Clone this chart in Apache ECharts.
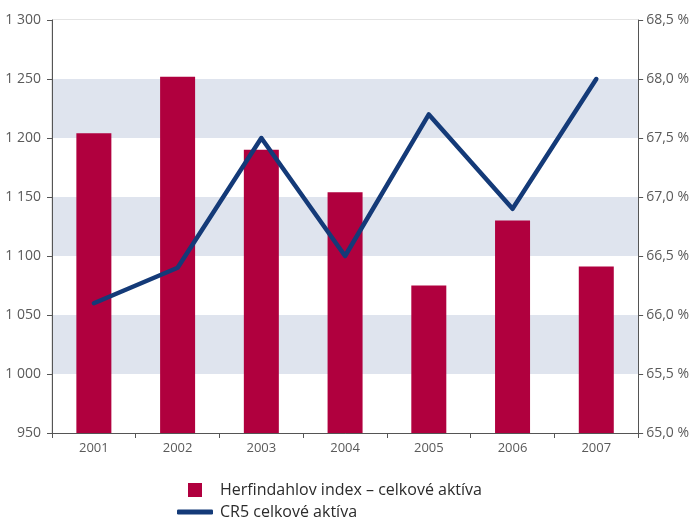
<!DOCTYPE html>
<html>
<head>
<meta charset="utf-8">
<script src="https://cdn.jsdelivr.net/npm/echarts@6/dist/echarts.min.js"></script>
<style>
  html, body { margin: 0; padding: 0; background: #fff; }
  #chart { width: 692px; height: 520px; }
</style>
</head>
<body>
<div id="chart"></div>
<script>
// Years on the category axis
const years = ['2001', '2002', '2003', '2004', '2005', '2006', '2007'];
// Herfindahl index of total assets (left axis)
const herfindahl = [1204, 1252, 1190, 1154, 1075, 1130, 1091];
// CR5 share of total assets, in % (right axis)
const cr5 = [66.1, 66.4, 67.5, 66.5, 67.7, 66.9, 68.0];

const seriesNames = ['Herfindahlov index – celkové aktíva', 'CR5 celkové aktíva'];

const FONT = '"Open Sans", "Noto Sans", sans-serif';
const AXIS_GREY = '#555555';
const LABEL_GREY = '#5a5a5a';

const fmtThousands = v => {
  const s = String(Math.round(v));
  return s.length > 3 ? s.slice(0, s.length - 3) + ' ' + s.slice(-3) : s;
};
const fmtPercent = v => v.toFixed(1).replace('.', ',') + ' %';

const chart = echarts.init(document.getElementById('chart'), null, { renderer: 'canvas' });

chart.setOption({
  animation: false,
  backgroundColor: '#ffffff',
  textStyle: { fontFamily: FONT },
  grid: {
    left: 52, right: 53, top: 20, bottom: 87,
    show: true, borderColor: '#c8c8c8', borderWidth: 1, backgroundColor: 'transparent'
  },
  legend: [
    {
      data: [{ name: seriesNames[0], icon: 'rect' }],
      left: 183, top: 477, orient: 'vertical',
      itemWidth: 14, itemHeight: 14,
      textStyle: { fontFamily: FONT, fontSize: 16, color: '#2b2b2b', padding: [0, 0, 0, 13] }
    },
    {
      data: [{ name: seriesNames[1], icon: 'roundRect' }],
      left: 172, top: 499, orient: 'vertical',
      itemWidth: 36, itemHeight: 5,
      itemStyle: { borderWidth: 0 },
      textStyle: { fontFamily: FONT, fontSize: 16, color: '#2b2b2b', padding: [0, 0, 0, 2] }
    }
  ],
  xAxis: {
    type: 'category',
    data: years,
    axisLine: { lineStyle: { color: AXIS_GREY, width: 1 } },
    axisTick: { show: true, length: 5, lineStyle: { color: AXIS_GREY } },
    axisLabel: { color: LABEL_GREY, fontSize: 13, margin: 9, fontFamily: FONT },
    splitLine: { show: false }
  },
  yAxis: [
    {
      type: 'value',
      min: 950, max: 1300, interval: 50,
      position: 'left',
      axisLine: { show: true, lineStyle: { color: AXIS_GREY, width: 1 } },
      axisTick: { show: true, length: 5, lineStyle: { color: AXIS_GREY } },
      axisLabel: { color: LABEL_GREY, fontSize: 14, margin: 11, fontFamily: FONT, formatter: fmtThousands },
      splitLine: { show: false },
      splitArea: { show: true, areaStyle: { color: ['#ffffff', '#dfe4ee'] } }
    },
    {
      type: 'value',
      min: 65.0, max: 68.5, interval: 0.5,
      position: 'right',
      axisLine: { show: true, lineStyle: { color: AXIS_GREY, width: 1 } },
      axisTick: { show: true, length: 5, lineStyle: { color: AXIS_GREY } },
      axisLabel: { color: LABEL_GREY, fontSize: 14, margin: 8, fontFamily: FONT, formatter: fmtPercent },
      splitLine: { show: false }
    }
  ],
  series: [
    {
      name: seriesNames[0],
      type: 'bar',
      yAxisIndex: 0,
      data: herfindahl,
      barWidth: 35,
      itemStyle: { color: '#b0003e' }
    },
    {
      name: seriesNames[1],
      type: 'line',
      yAxisIndex: 1,
      data: cr5,
      symbol: 'none',
      lineStyle: { color: '#143a78', width: 4.5, cap: 'round', join: 'round' },
      itemStyle: { color: '#143a78' }
    }
  ]
});
</script>
</body>
</html>
